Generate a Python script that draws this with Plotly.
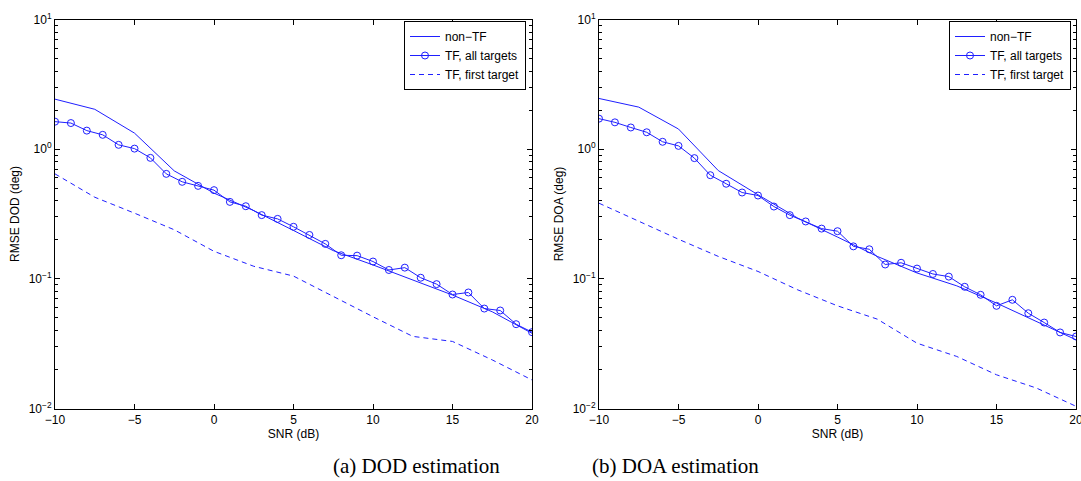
import plotly.graph_objects as go

# ---------------- data ----------------
snr_int = list(range(-10, 21))                      # every 1 dB (circles)
snr_coarse = [-10, -7.5, -5, -2.5, 0, 2.5, 5, 7.5, 10, 12.5, 15, 17.5, 20]

# (a) DOD
dod_nontf = [2.43, 2.03, 1.33, 0.68, 0.458, 0.336, 0.236, 0.165, 0.128, 0.098, 0.075, 0.0557, 0.038]
dod_tf_all = [1.63, 1.59, 1.39, 1.29, 1.08, 1.01, 0.857, 0.645, 0.56, 0.521, 0.483,
              0.392, 0.363, 0.31, 0.29, 0.252, 0.218, 0.186, 0.152, 0.151, 0.136,
              0.117, 0.122, 0.102, 0.091, 0.0757, 0.0785, 0.059, 0.057, 0.0447, 0.0388]
dod_tf_first = [0.645, 0.426, 0.321, 0.239, 0.163, 0.125, 0.105, 0.073, 0.051, 0.036, 0.0329, 0.0237, 0.0166]

# (b) DOA
doa_nontf = [2.46, 2.11, 1.43, 0.684, 0.445, 0.294, 0.21, 0.149, 0.111, 0.0883, 0.065, 0.0469, 0.0339]
doa_tf_all = [1.72, 1.61, 1.47, 1.35, 1.14, 1.06, 0.853, 0.63, 0.541, 0.463, 0.439,
              0.361, 0.31, 0.277, 0.244, 0.233, 0.178, 0.169, 0.129, 0.133, 0.12,
              0.109, 0.104, 0.0868, 0.0753, 0.0619, 0.0689, 0.0543, 0.046, 0.0386, 0.0359]
doa_tf_first = [0.383, 0.277, 0.202, 0.149, 0.114, 0.0822, 0.0619, 0.0489, 0.0319, 0.0252, 0.0182, 0.0144, 0.0104]

series_names = ["non\u2212TF", "TF, all targets", "TF, first target"]
x_tickvals = [-10, -5, 0, 5, 10, 15, 20]
x_ticktext = ["\u221210", "\u22125", "0", "5", "10", "15", "20"]
y_tickvals = [0.01, 0.1, 1, 10]
y_ticktext = ["10<sup>\u22122</sup>", "10<sup>\u22121</sup>", "10<sup>0</sup>", "10<sup>1</sup>"]
y_minor = [m * 10 ** e for e in (-2, -1, 0) for m in range(2, 10)]
captions = ["(a) DOD estimation", "(b) DOA estimation"]
y_titles = ["RMSE DOD (deg)", "RMSE DOA (deg)"]

# ---------------- figure ----------------
BLUE = "#1f1fff"
FONT = "Liberation Sans, Arial, Helvetica, sans-serif"

fig = go.Figure()

panels = [
    (dod_nontf, dod_tf_all, dod_tf_first, "x", "y", "legend"),
    (doa_nontf, doa_tf_all, doa_tf_first, "x2", "y2", "legend2"),
]
for nontf, tfall, tffirst, xa, ya, lg in panels:
    fig.add_trace(go.Scatter(x=snr_coarse, y=nontf, mode="lines", name=series_names[0],
                             line=dict(color=BLUE, width=1), xaxis=xa, yaxis=ya, legend=lg))
    fig.add_trace(go.Scatter(x=snr_int, y=tfall, mode="lines+markers", name=series_names[1],
                             line=dict(color=BLUE, width=1),
                             marker=dict(symbol="circle-open", size=7, color=BLUE,
                                         line=dict(width=1, color=BLUE)),
                             xaxis=xa, yaxis=ya, legend=lg))
    fig.add_trace(go.Scatter(x=snr_coarse, y=tffirst, mode="lines", name=series_names[2],
                             line=dict(color=BLUE, width=1, dash="5px,4px"),
                             xaxis=xa, yaxis=ya, legend=lg))

W, H = 1081, 481
top_px, bot_px = 19.5, 408.5
ydom = [1 - bot_px / H, 1 - top_px / H]
xdoms = [[55 / W, 532 / W], [599 / W, 1076 / W]]

common_x = dict(range=[-10, 20], tickmode="array", tickvals=x_tickvals, ticktext=x_ticktext,
                ticks="inside", ticklen=5, tickcolor="black", showline=True, linecolor="black",
                linewidth=1, mirror="allticks", showgrid=False, zeroline=False, automargin=False,
                ticklabelstandoff=0, ticklabeloverflow="allow",
                tickfont=dict(family=FONT, size=12, color="black"),
                title=dict(text="SNR (dB)", font=dict(family=FONT, size=12, color="black"), standoff=0))
common_y = dict(type="log", range=[-2, 1], tickmode="array", tickvals=y_tickvals, ticktext=y_ticktext,
                ticks="inside", ticklen=5, tickcolor="black", showline=True, linecolor="black",
                linewidth=1, mirror="allticks", showgrid=False, zeroline=False, automargin=False,
                ticklabeloverflow="allow",
                tickfont=dict(family=FONT, size=12, color="black"),
                minor=dict(tickmode="array", tickvals=y_minor, ticks="inside", ticklen=3,
                           tickcolor="black", showgrid=False))

legend_common = dict(xanchor="right", yanchor="top", bgcolor="white", bordercolor="black",
                     borderwidth=1, font=dict(family=FONT, size=12, color="black"),
                     tracegroupgap=0, itemwidth=30)

fig.update_layout(
    width=W, height=H,
    margin=dict(l=0, r=0, t=0, b=0, autoexpand=False),
    paper_bgcolor="white", plot_bgcolor="white",
    xaxis=dict(domain=xdoms[0], anchor="y", **common_x),
    yaxis=dict(domain=ydom, anchor="x", **common_y,
               title=dict(text=y_titles[0], font=dict(family=FONT, size=12, color="black"), standoff=6)),
    xaxis2=dict(domain=xdoms[1], anchor="y2", **common_x),
    yaxis2=dict(domain=ydom, anchor="x2", **common_y,
                title=dict(text=y_titles[1], font=dict(family=FONT, size=12, color="black"), standoff=6)),
    legend=dict(x=526 / W, y=1 - 21 / H, **legend_common),
    legend2=dict(x=1071 / W, y=1 - 21 / H, **legend_common),
    showlegend=True,
)

for cap, cx in zip(captions, [416.5, 675.5]):
    fig.add_annotation(text=cap, x=cx / W, y=1 - 466 / H, xref="paper", yref="paper",
                       xanchor="center", yanchor="middle", showarrow=False,
                       font=dict(family="Liberation Serif, Times New Roman, serif", size=21, color="black"))

fig.write_html("out.html")
